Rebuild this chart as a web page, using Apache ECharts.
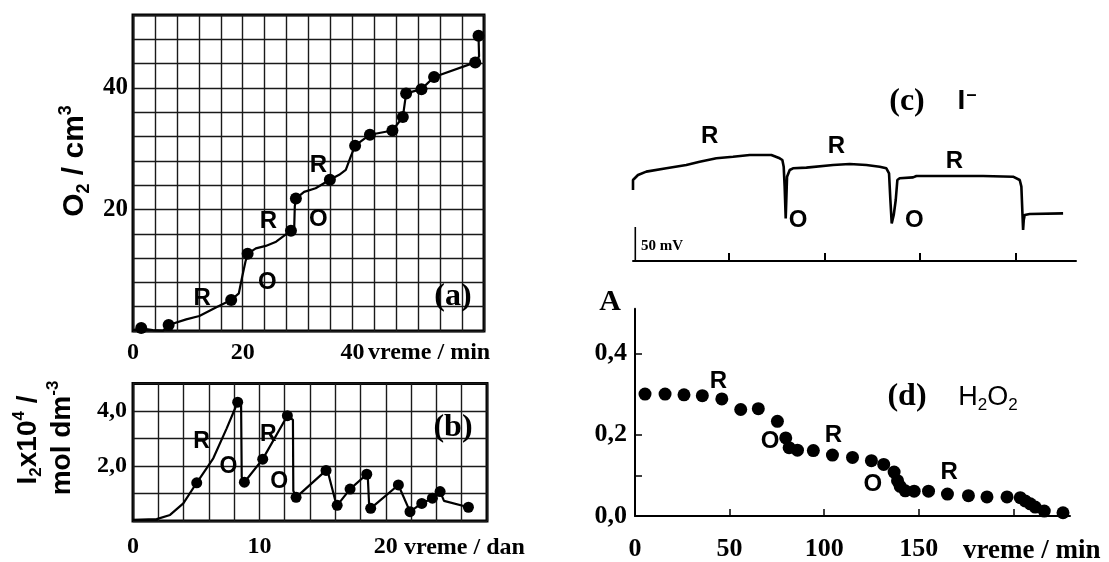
<!DOCTYPE html>
<html><head><meta charset="utf-8">
<script src="https://cdn.jsdelivr.net/npm/echarts@6/dist/echarts.min.js"></script>
<style>html,body{margin:0;padding:0;background:#fff}#c{width:1109px;height:562px}</style>
</head><body><div id="c"></div>
<script>
// ---------- panel (a): O2 / cm3 vs vreme / min ----------
const aDots = [[1.5,0.5],[6.5,1.0],[17.9,5.1],[20.9,12.7],[28.8,16.5],[29.7,21.8],[35.9,24.9],[40.5,30.5],[43.2,32.3],[47.3,33.0],[49.2,35.2],[49.8,39.1],[52.6,39.8],[54.9,41.8],[62.4,44.2],[63.0,48.6]];
const aCurve = [[0,0.16],[1.5,0.44],[3.6,0.16],[5.45,0.05],[6.5,0.99],[9.7,1.92],[12.1,2.47],[15.2,3.9],[17.9,5.1],[19.3,6.2],[19.9,8.9],[20.5,11.4],[20.9,12.7],[22.4,13.6],[24.2,14.0],[26.1,14.7],[28.8,16.5],[29.4,17.2],[29.5,20.5],[29.7,21.8],[31.2,22.9],[33.3,23.5],[35.9,24.9],[37.6,25.7],[38.8,26.5],[39.7,28.7],[40.5,30.5],[43.2,32.3],[47.3,33.0],[49.2,35.2],[49.8,39.1],[52.6,39.8],[54.9,41.8],[62.4,44.2],[63.1,45.2],[63.0,48.6]];
const aNotes = [[12.6,5.4,'R'],[24.5,8.0,'O'],[24.7,18.0,'R'],[33.8,18.3,'O'],[33.8,27.2,'R']];
const aXLabels = [0,20,40];
const aYLabels = [20,40];

// ---------- panel (b): I2x10^4 / mol dm-3 vs vreme / dan ----------
const bDots = [[5.04,1.39],[8.28,4.32],[8.81,1.41],[10.26,2.25],[12.21,3.83],[12.9,0.86],[15.27,1.84],[16.15,0.57],[17.17,1.16],[18.49,1.70],[18.8,0.46],[20.99,1.31],[21.91,0.34],[22.84,0.64],[23.68,0.83],[24.29,1.07],[26.53,0.50]];
const bCurve = [[0,0.04],[1.87,0.07],[2.93,0.22],[3.98,0.64],[5.04,1.39],[6.35,2.28],[7.41,3.37],[8.28,4.32],[8.55,4.22],[8.6,1.6],[8.81,1.41],[10.26,2.25],[12.21,3.83],[12.65,3.68],[12.68,1.1],[12.9,0.86],[15.27,1.84],[15.45,1.72],[15.98,0.78],[16.15,0.57],[17.17,1.16],[18.49,1.70],[18.57,1.62],[18.67,0.65],[18.8,0.46],[20.99,1.31],[21.91,0.34],[22.84,0.64],[23.68,0.83],[24.29,1.07],[24.6,0.73],[26.53,0.50]];
const bNotes = [[5.43,2.88,'R'],[7.54,1.97,'O'],[10.7,3.13,'R'],[11.57,1.43,'O']];
const bXLabels = [0,10,20];
const bYLabels = [2,4];

// ---------- panel (c): I- potential trace (mV) ----------
const cTrace = [[0,104.4],[0,119.1],[0.052,126.5],[0.139,131.4],[0.348,136.3],[0.557,141.2],[0.697,146.1],[0.871,151.0],[1.045,153.4],[1.22,155.9],[1.446,155.9],[1.533,151.0],[1.561,148.5],[1.575,138.7],[1.585,109.3],[1.596,62.7],[1.61,124.0],[1.638,133.8],[1.672,136.3],[1.812,137.3],[2.091,141.2],[2.265,142.6],[2.439,141.2],[2.578,138.7],[2.648,136.3],[2.676,128.9],[2.69,89.7],[2.704,55.4],[2.725,67.6],[2.746,89.7],[2.763,119.1],[2.787,121.6],[2.927,123.0],[2.962,125.0],[3.659,125.0],[3.972,124.0],[4.042,119.1],[4.059,109.3],[4.077,45.6],[4.084,60.3],[4.094,67.6],[4.146,69.1],[4.495,70.1]];
const cScaleBar = [[0.024,0],[0.024,50]];
const cNotes = [[0.80,182.8,'R'],[2.125,168,'R'],[3.36,146,'R'],[1.725,60.3,'O'],[2.94,60.3,'O']];
const cTicks = [1,2,3,4];

// ---------- panel (d): A (H2O2) vs vreme / min ----------
const dDots = [[5.3,0.300],[15.9,0.300],[25.9,0.298],[35.6,0.296],[45.9,0.288],[55.9,0.262],[65.2,0.264],[75.3,0.233],[79.7,0.192],[81.5,0.168],[85.9,0.162],[94.3,0.161],[104.4,0.150],[115,0.144],[125,0.136],[131.5,0.127],[137,0.108],[138.8,0.087],[140.2,0.073],[142.9,0.062],[147.6,0.061],[155.2,0.061],[165.2,0.054],[176.3,0.050],[186.1,0.047],[196.7,0.047],[203.7,0.045],[206.3,0.037],[209,0.030],[211.6,0.022],[216.4,0.012],[226.3,0.008]];
const dNotes = [[44.1,0.332,'R'],[71.4,0.184,'O'],[104.9,0.199,'R'],[125.8,0.077,'O'],[166.1,0.108,'R']];
const dXLabels = [0,50,100,150];
const dXTicks = [50,100,150,200];
const dYLabels = [0,0.2,0.4];
const dYTicks = [0.1,0.2,0.4];

const SERIF = '"Liberation Serif","Times New Roman",serif';
const SANS = '"Liberation Sans",Arial,sans-serif';
const comma = v => (+v).toFixed(1).replace('.', ',');

function numLabel(vals, size, margin, fmt) {
  return {show:true, customValues: vals, margin: margin, color:'#000', fontFamily: SERIF, fontWeight:'bold', fontSize: size,
    formatter: v => { const ok = vals.some(t => Math.abs(t - v) < 1e-9); return ok ? (fmt ? fmt(v) : String(v)) : ''; }};
}
const gridLine = {show:true, lineStyle:{color:'#1a1a1a', width:1.4}};
function notes(arr, idx, size) {
  return {type:'scatter', xAxisIndex: idx, yAxisIndex: idx, symbolSize: 1, itemStyle:{color:'rgba(0,0,0,0)'}, silent:true, z:6,
    data: arr.map(d => ({value:[d[0], d[1]], name: d[2]})),
    label:{show:true, position:'inside', formatter:'{b}', color:'#000', opacity:1, fontFamily: SANS, fontWeight:'bold', fontSize: size}};
}
function dots(arr, idx, size) {
  return {type:'scatter', xAxisIndex: idx, yAxisIndex: idx, data: arr, symbolSize: size, itemStyle:{color:'#000', opacity:1}, z:4};
}
function txt(x, y, text, font, extra) {
  return Object.assign({type:'text', x: x, y: y, silent:true, z:10,
    style: Object.assign({text: text, font: font, fill:'#000', align:'center', verticalAlign:'middle', textAlign:'center', textVerticalAlign:'middle'}, (extra && extra.style) || {})},
    extra && extra.rotation !== undefined ? {rotation: extra.rotation} : {});
}

const chart = echarts.init(document.getElementById('c'), null, {renderer:'canvas'});
chart.setOption({
  animation:false,
  backgroundColor:'#fff',
  grid:[
    {left:133, top:15, width:351, height:316, show:true, borderColor:'#000', borderWidth:3},
    {left:133, top:383.5, width:354, height:137.5, show:true, borderColor:'#000', borderWidth:3},
    {left:633, top:125, width:443, height:136},
    {left:635, top:308.7, width:435, height:209.6}
  ],
  xAxis:[
    {gridIndex:0, type:'value', min:0, max:64, interval:4, axisLine:{show:false}, axisTick:{show:false}, splitLine:gridLine, axisLabel:numLabel(aXLabels, 24, 10)},
    {gridIndex:1, type:'value', min:0, max:28, interval:2, axisLine:{show:false}, axisTick:{show:false}, splitLine:gridLine, axisLabel:numLabel(bXLabels, 24, 14)},
    {gridIndex:2, type:'value', min:0, max:4.63, interval:1, axisLine:{show:true, lineStyle:{color:'#000', width:2}}, axisTick:{show:true, inside:true, length:8, customValues:cTicks, lineStyle:{color:'#000', width:2}}, axisLabel:{show:false}, splitLine:{show:false}},
    {gridIndex:3, type:'value', min:0, max:230, interval:50, axisLine:{show:true, lineStyle:{color:'#000', width:2}}, axisTick:{show:true, inside:true, length:7, customValues:dXTicks, lineStyle:{color:'#000', width:1.5}}, axisLabel:numLabel(dXLabels, 26, 20), splitLine:{show:false}}
  ],
  yAxis:[
    {gridIndex:0, type:'value', min:0, max:52, interval:4, axisLine:{show:false}, axisTick:{show:false}, splitLine:gridLine, axisLabel:numLabel(aYLabels, 25, 5)},
    {gridIndex:1, type:'value', min:0, max:5, interval:1, axisLine:{show:false}, axisTick:{show:false}, splitLine:gridLine, axisLabel:numLabel(bYLabels, 24, 6, comma)},
    {gridIndex:2, type:'value', min:0, max:200, show:false},
    {gridIndex:3, type:'value', min:0, max:0.51, axisLine:{show:true, lineStyle:{color:'#000', width:2}}, axisTick:{show:true, inside:true, length:7, customValues:dYTicks, lineStyle:{color:'#000', width:1.5}}, axisLabel:numLabel(dYLabels, 26, 8, comma), splitLine:{show:false}}
  ],
  series:[
    {type:'line', xAxisIndex:0, yAxisIndex:0, data:aCurve, showSymbol:false, symbol:'none', lineStyle:{color:'#000', width:2.2}, z:3},
    dots(aDots, 0, 12),
    notes(aNotes, 0, 24),
    {type:'line', xAxisIndex:1, yAxisIndex:1, data:bCurve, showSymbol:false, symbol:'none', lineStyle:{color:'#000', width:2.2}, z:3},
    dots(bDots, 1, 11),
    notes(bNotes, 1, 23),
    {type:'line', xAxisIndex:2, yAxisIndex:2, data:cTrace, showSymbol:false, symbol:'none', lineStyle:{color:'#000', width:2.6}, clip:false, z:3},
    {type:'line', xAxisIndex:2, yAxisIndex:2, data:cScaleBar, showSymbol:false, symbol:'none', lineStyle:{color:'#000', width:1.6}, clip:false, z:3},
    notes(cNotes, 2, 24),
    dots(dDots, 3, 13),
    notes(dNotes, 3, 24)
  ],
  graphic:[
    txt(453, 297, '(a)', 'bold 32px ' + SERIF),
    txt(453, 428, '(b)', 'bold 32px ' + SERIF),
    txt(907, 102, '(c)', 'bold 32px ' + SERIF),
    txt(967, 101, '{m|I}{p|\u2013}', '', {style:{rich:{m:{fontFamily:SANS, fontWeight:'bold', fontSize:28, lineHeight:30}, p:{fontFamily:SANS, fontWeight:'bold', fontSize:18, lineHeight:30, verticalAlign:'top', padding:[0,0,8,1]}}}}),
    txt(610, 302, 'A', 'bold 30px ' + SERIF),
    txt(907, 397, '(d)', 'bold 32px ' + SERIF),
    txt(988, 398, '{m|H}{s|2}{m|O}{s|2}', '', {style:{rich:{m:{fontFamily:SANS, fontSize:27, lineHeight:32}, s:{fontFamily:SANS, fontSize:17, lineHeight:22, verticalAlign:'bottom'}}}}),
    txt(662, 246, '50 mV', 'bold 15px ' + SERIF),
    txt(368, 353, 'vreme / min', 'bold 24px ' + SERIF, {style:{align:'left', textAlign:'left'}}),
    txt(404, 548, 'vreme / dan', 'bold 24px ' + SERIF, {style:{align:'left', textAlign:'left'}}),
    txt(963, 551, 'vreme / min', 'bold 27px ' + SERIF, {style:{align:'left', textAlign:'left'}}),
    txt(75, 161, '{m|O}{s|2}{m| / cm}{p|3}', '', {rotation: Math.PI/2, style:{rich:{m:{fontFamily:SANS, fontWeight:'bold', fontSize:30, lineHeight:36}, s:{fontFamily:SANS, fontWeight:'bold', fontSize:18, lineHeight:20, verticalAlign:'bottom'}, p:{fontFamily:SANS, fontWeight:'bold', fontSize:18, lineHeight:20, verticalAlign:'top'}}}}),
    txt(28, 440, '{m|I}{s|2}{m|x10}{p|4}{m| /}', '', {rotation: Math.PI/2, style:{rich:{m:{fontFamily:SANS, fontWeight:'bold', fontSize:28, lineHeight:34}, s:{fontFamily:SANS, fontWeight:'bold', fontSize:17, lineHeight:20, verticalAlign:'bottom'}, p:{fontFamily:SANS, fontWeight:'bold', fontSize:17, lineHeight:20, verticalAlign:'top'}}}}),
    txt(62, 438, '{m|mol dm}{p|-3}', '', {rotation: Math.PI/2, style:{rich:{m:{fontFamily:SANS, fontWeight:'bold', fontSize:28, lineHeight:34}, p:{fontFamily:SANS, fontWeight:'bold', fontSize:17, lineHeight:20, verticalAlign:'top'}}}})
  ]
});
</script></body></html>
